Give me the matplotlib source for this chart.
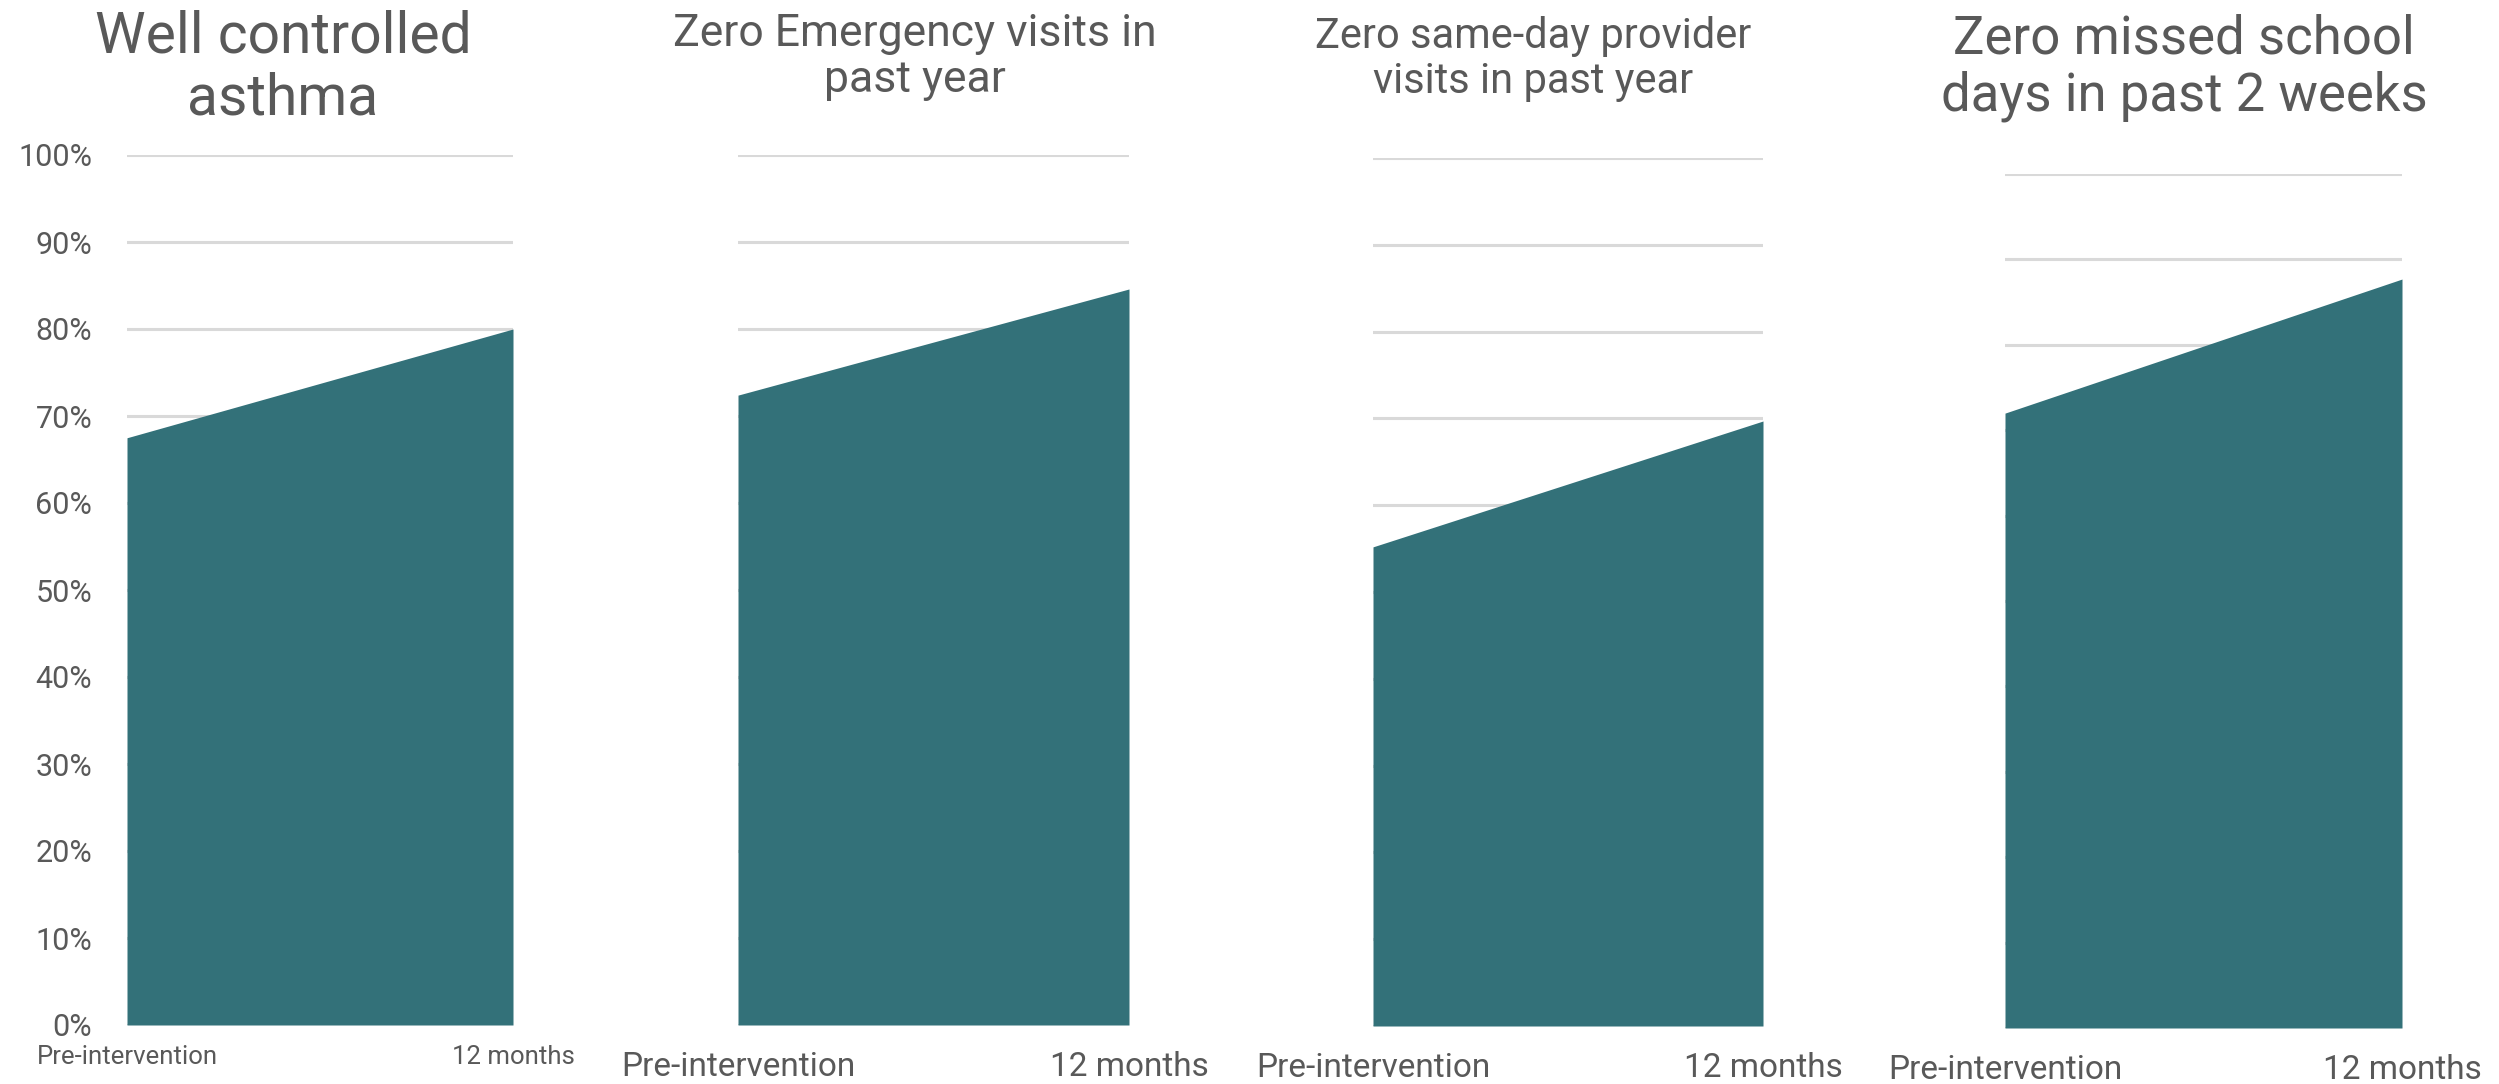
import matplotlib
matplotlib.use("Agg")
import matplotlib.pyplot as plt
import numpy as np
from matplotlib.ticker import PercentFormatter

plt.rcParams['font.family'] = ['Roboto', 'DejaVu Sans']

# ---- data ----
titles = ["Well controlled\nasthma",
          "Zero Emergency visits in\npast year",
          "Zero same-day provider\nvisits in past year",
          "Zero missed school\ndays in past 2 weeks"]
categories = ["Pre-intervention", "12 months"]
pre_values = [0.675, 0.724, 0.552, 0.720]
post_values = [0.800, 0.846, 0.697, 0.877]
y_ticks = [0.0, 0.1, 0.2, 0.3, 0.4, 0.5, 0.6, 0.7, 0.8, 0.9, 1.0]

# ---- layout (pixels in a 2499x1084 figure) ----
W, H = 2499, 1084
boxes = [  # left, right, y of 0%, y of 100%
    (127, 513, 1025, 155),
    (738, 1129, 1025, 155),
    (1373, 1763, 1026, 158),
    (2005, 2402, 1028, 174),
]
title_pos = [(283, 68, 41), (915, 57, 32), (1533, 59, 30), (2184, 68, 38)]
xlabel_size = [18.5, 24, 24, 24]
xlabel_pad = [14.4, 18.4, 18.4, 18.4]

fill_color = "#337179"
grid_color = "#d9d9d9"
text_color = "#595959"

fig = plt.figure(figsize=(W / 100, H / 100), dpi=100)

for i in range(4):
    l, r, y0, y1 = boxes[i]
    ax = fig.add_axes([l / W, 1 - y0 / H, (r - l) / W, (y0 - y1) / H])
    xs = np.arange(len(categories))
    ax.fill_between(xs, [pre_values[i], post_values[i]], 0,
                    color=fill_color, linewidth=0, zorder=3)
    ax.set_xlim(0, 1)
    ax.set_ylim(0, 1)
    ax.set_yticks(y_ticks)
    ax.yaxis.set_major_formatter(PercentFormatter(1.0, decimals=0))
    ax.grid(axis='y', color=grid_color, linewidth=2.2, zorder=0)
    ax.set_axisbelow(True)
    for s in ax.spines.values():
        s.set_visible(False)
    ax.set_xticks(xs, categories)
    ax.tick_params(axis='x', length=0, pad=xlabel_pad[i],
                   labelsize=xlabel_size[i], labelcolor=text_color)
    if i == 0:
        ax.tick_params(axis='y', length=0, pad=25, labelsize=22,
                       labelcolor=text_color)
    else:
        ax.tick_params(axis='y', length=0, labelleft=False)

    tx, ty, ts = title_pos[i]
    fig.text(tx / W, 1 - ty / H, titles[i], ha='center', va='center',
             fontsize=ts, color=text_color, linespacing=1.15)

fig.savefig("out.png", dpi=100, facecolor="white")
